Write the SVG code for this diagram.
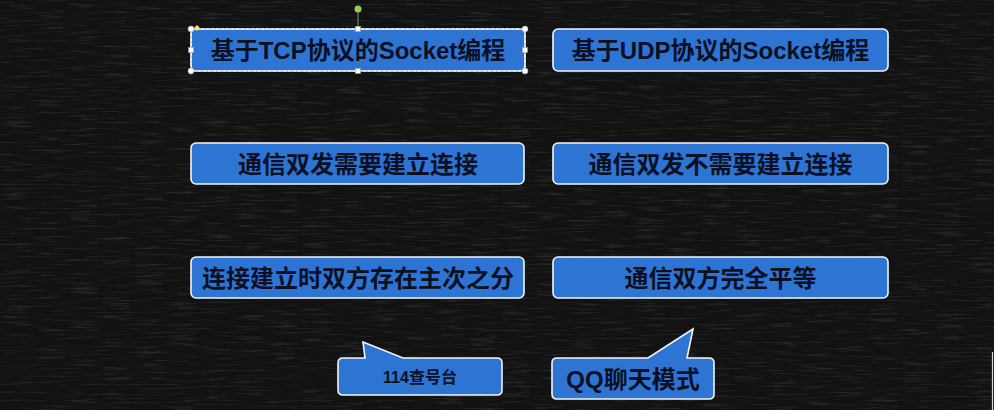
<svg xmlns="http://www.w3.org/2000/svg" width="994" height="410" viewBox="0 0 994 410">
<defs>
<filter id="chalk" x="0" y="0" width="100%" height="100%">
<feTurbulence type="fractalNoise" baseFrequency="0.03 0.5" numOctaves="3" seed="7" result="n"/>
<feColorMatrix type="matrix" values="0 0 0 0 1  0 0 0 0 1  0 0 0 0 1  0 0 0 1.4 -0.72" in="n"/>
</filter>
<style>
.box{fill:#2e74d3;stroke:#f2f6fb;stroke-width:1.6}
.t{font-family:"Liberation Sans","Noto Sans CJK SC",sans-serif;font-weight:bold;fill:#0b1022;text-anchor:middle;dominant-baseline:central}
.big{font-size:24px}
.small{font-size:16px}
.hd{fill:#ffffff;stroke:#9aa4b0;stroke-width:0.6}
</style>
</defs>
<rect x="0" y="0" width="994" height="410" fill="#121212"/>
<rect x="0" y="0" width="994" height="410" filter="url(#chalk)" opacity="0.2"/>
<line x1="992.5" y1="352" x2="992.5" y2="410" stroke="#d8d8d8" stroke-width="1.2"/>

<g id="tcp">
<rect class="box" x="191" y="29" width="334" height="42" rx="5"/>
<text class="t big" x="358" y="50">基于TCP协议的Socket编程</text>
</g>
<g id="udp">
<rect class="box" x="553" y="29" width="335" height="42" rx="5"/>
<text class="t big" x="720.5" y="50">基于UDP协议的Socket编程</text>
</g>
<g id="tcp-conn">
<rect class="box" x="191" y="143" width="333" height="41" rx="5"/>
<text class="t big" x="358" y="164">通信双发需要建立连接</text>
</g>
<g id="udp-conn">
<rect class="box" x="553" y="143" width="335" height="41" rx="5"/>
<text class="t big" x="720.5" y="164">通信双发不需要建立连接</text>
</g>
<g id="tcp-role">
<rect class="box" x="191" y="257" width="333" height="41" rx="5"/>
<text class="t big" x="358" y="278">连接建立时双方存在主次之分</text>
</g>
<g id="udp-role">
<rect class="box" x="553" y="257" width="335" height="41" rx="5"/>
<text class="t big" x="720.5" y="278">通信双方完全平等</text>
</g>
<g id="callout-114">
<path class="box" d="M343,358 L365,358 L363,342 L403,358 L497,358 Q502,358 502,363 L502,390 Q502,395 497,395 L343,395 Q338,395 338,390 L338,363 Q338,358 343,358 Z"/>
<text class="t small" x="420" y="377">114查号台</text>
</g>
<g id="callout-qq">
<path class="box" d="M557,358 L648,358 L693,329 L687,358 L709,358 Q714,358 714,363 L714,394 Q714,399 709,399 L557,399 Q552,399 552,394 L552,363 Q552,358 557,358 Z"/>
<text class="t big" x="633" y="379">QQ聊天模式</text>
</g>
<g id="connectors"></g>
<g id="selection">
<rect x="191" y="29" width="334" height="42" fill="none" stroke="#ffffff" stroke-width="1" stroke-dasharray="3,2"/>
<line x1="358" y1="10" x2="358" y2="29" stroke="#8a8a8a" stroke-width="1"/>
<circle cx="358" cy="9" r="3.5" fill="#8fd14f"/>
<path d="M197,25 L200,28 L197,31 L194,28 Z" fill="#f5e35a"/>
<circle class="hd" cx="191" cy="29" r="3"/>
<circle class="hd" cx="525" cy="29" r="3"/>
<circle class="hd" cx="191" cy="71" r="3"/>
<circle class="hd" cx="525" cy="71" r="3"/>
<rect class="hd" x="355.5" y="26.5" width="5" height="5"/>
<rect class="hd" x="355.5" y="68.5" width="5" height="5"/>
<rect class="hd" x="188.5" y="47.5" width="5" height="5"/>
<rect class="hd" x="522.5" y="47.5" width="5" height="5"/>
</g>
</svg>
